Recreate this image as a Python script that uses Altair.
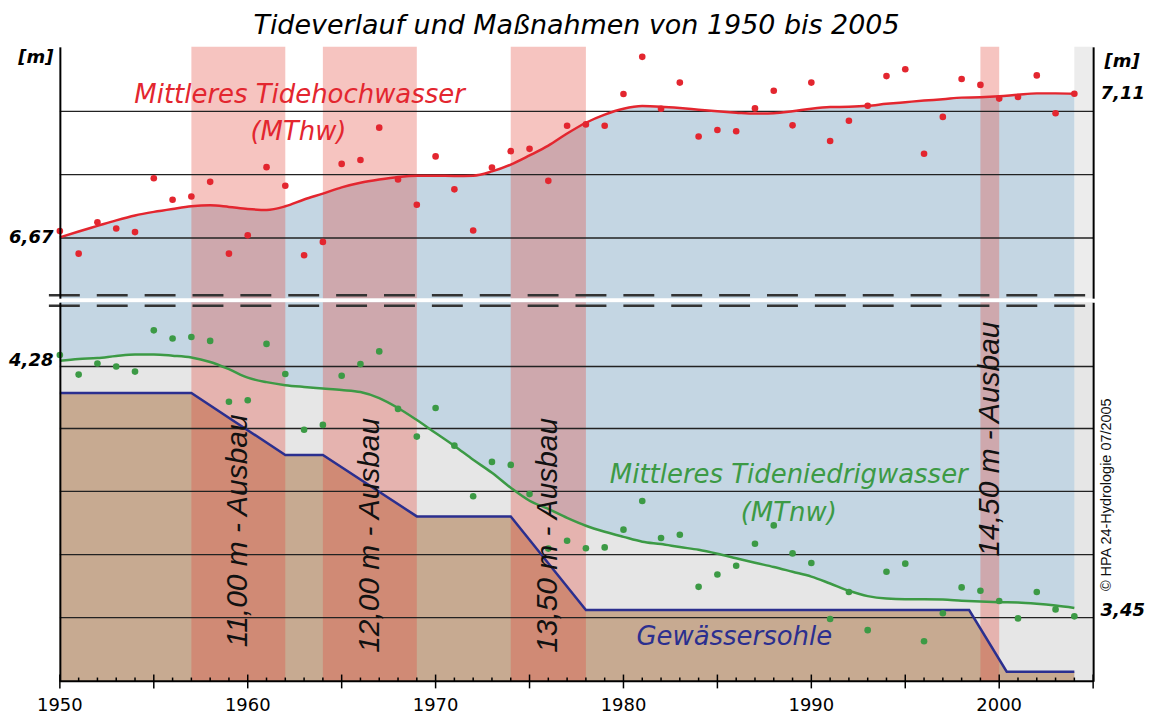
import altair as alt
import pandas as pd

# ---------------- data ----------------
years = list(range(1950, 2005))

mthw_points = [6.689, 6.620, 6.716, 6.697, 6.686, 6.851, 6.785, 6.795, 6.840, 6.620,
               6.676, 6.885, 6.828, 6.615, 6.656, 6.895, 6.907, 7.006, 6.847, 6.770,
               6.918, 6.817, 6.691, 6.884, 6.934, 6.941, 6.843, 7.012, 7.016, 7.012,
               7.109, 7.223, 7.064, 7.144, 6.979, 6.999, 6.995, 7.065, 7.119, 7.013,
               7.144, 6.965, 7.027, 7.073, 7.164, 7.185, 6.926, 7.039, 7.155, 7.137,
               7.095, 7.100, 7.166, 7.050, 7.110]

mthw_curve = [6.670, 6.688, 6.705, 6.722, 6.737, 6.748, 6.757, 6.765, 6.768, 6.763,
              6.757, 6.754, 6.765, 6.786, 6.804, 6.823, 6.837, 6.847, 6.855, 6.859,
              6.859, 6.858, 6.859, 6.872, 6.893, 6.921, 6.951, 6.988, 7.021, 7.046,
              7.064, 7.072, 7.070, 7.066, 7.061, 7.056, 7.052, 7.049, 7.050, 7.056,
              7.064, 7.069, 7.070, 7.073, 7.079, 7.084, 7.089, 7.093, 7.098, 7.099,
              7.102, 7.107, 7.111, 7.111, 7.110]

mtnw_points = [4.299, 4.234, 4.271, 4.261, 4.244, 4.381, 4.354, 4.359, 4.346, 4.144,
               4.149, 4.336, 4.236, 4.051, 4.067, 4.230, 4.269, 4.311, 4.120, 4.028,
               4.123, 3.998, 3.830, 3.944, 3.934, 3.837, 3.656, 3.682, 3.657, 3.660,
               3.719, 3.814, 3.691, 3.702, 3.529, 3.570, 3.599, 3.672, 3.733, 3.640,
               3.608, 3.422, 3.512, 3.385, 3.579, 3.606, 3.348, 3.441, 3.527, 3.516,
               3.482, 3.424, 3.512, 3.454, 3.431]

mtnw_curve = [4.280, 4.286, 4.289, 4.296, 4.301, 4.301, 4.297, 4.291, 4.276, 4.252,
              4.224, 4.209, 4.199, 4.193, 4.188, 4.183, 4.176, 4.156, 4.123, 4.083,
              4.040, 3.997, 3.951, 3.908, 3.858, 3.815, 3.788, 3.758, 3.732, 3.712,
              3.695, 3.679, 3.671, 3.661, 3.652, 3.639, 3.624, 3.609, 3.595, 3.579,
              3.563, 3.540, 3.516, 3.498, 3.490, 3.488, 3.488, 3.487, 3.483, 3.480,
              3.478, 3.477, 3.473, 3.467, 3.459]

sohle_years = [1950, 1957, 1962, 1964, 1969, 1974, 1978, 1998.4, 2000.4, 2004]
sohle_level = [4.173, 4.173, 3.967, 3.967, 3.763, 3.763, 3.452, 3.452, 3.247, 3.247]

ausbau_start = [1957, 1964, 1974, 1999]
ausbau_end = [1962, 1969, 1978, 2000]
ausbau_labels = ["11,00 m - Ausbau", "12,00 m - Ausbau", "13,50 m - Ausbau", "14,50 m - Ausbau"]
ausbau_label_y = [3.715, 3.700, 3.700, 4.020]

grid_top = [7.056, 6.862, 6.668]
grid_bottom = [4.261, 4.055, 3.846, 3.636, 3.427]

top_domain = [6.4836, 7.2536]
bottom_domain = [3.2156, 4.4747]
x_domain = [1950, 2005]
x_tick_years = list(range(1950, 2006))
x_label_years = list(range(1950, 2001, 10))

left_top_label = [6.67]
right_top_label = [7.11]
left_bottom_label = [4.28]
right_bottom_label = [3.45]

# annotation anchors (year, level)
top_texts = ["Mittleres Tidehochwasser", "(MThw)"]
top_text_x = [1962.76, 1962.7]
top_text_y = [7.105, 6.993]
green_texts = ["Mittleres Tideniedrigwasser", "(MTnw)"]
green_text_x = [1988.8, 1988.8]
green_text_y = [3.902, 3.774]
blue_texts = ["Gewässersohle"]
blue_text_x = [1985.9]
blue_text_y = [3.361]
credit_text = ["© HPA 24-Hydrologie 07/2005"]
credit_x = [2005.75]
credit_y = [3.835]

# ---------------- styling ----------------
W, HT, HB = 1036, 252, 380
RED = "#e3262f"
GREEN = "#3c9a45"
NAVY = "#2b2f8f"
BLUE_FILL = "#c4d6e3"
BROWN = "#c7aa91"
GRAYBG = "#e6e6e6"
BAND = "#e2483c"
HFONT = "DejaVu Sans"
VFONT = "Liberation Sans"

hw = pd.DataFrame({"year": years, "pt": mthw_points, "curve": mthw_curve})
nw = pd.DataFrame({"year": years, "pt": mtnw_points, "curve": mtnw_curve})
sohle = pd.DataFrame({"year": sohle_years, "level": sohle_level})
bands = pd.DataFrame({"start": ausbau_start, "end": ausbau_end,
                      "label": ausbau_labels, "ly": ausbau_label_y})
strip = pd.DataFrame({"start": [years[-1]], "end": [x_domain[1]]})
ticks_df = pd.DataFrame({"year": x_tick_years})
labels_df = pd.DataFrame({"year": x_label_years})
one = pd.DataFrame({"a": [0]})

xs = alt.Scale(domain=x_domain, nice=False, zero=False)
ys_top = alt.Scale(domain=top_domain, nice=False, zero=False)
ys_bot = alt.Scale(domain=bottom_domain, nice=False, zero=False)

comma = "replace(format(datum.value, '.2f'), '.', ',')"
B0 = bottom_domain[0]


def yaxis(orient, vals, title=None, tx=0, ty=0):
    kw = dict(orient=orient, values=vals, labelExpr=comma, ticks=False, grid=False,
              domainColor="black", domainWidth=2, labelFont=HFONT, labelFontSize=18,
              labelFontStyle="italic", labelFontWeight="bold", labelColor="black",
              labelPadding=7, zindex=1)
    if title:
        kw.update(title=title, titleAngle=0, titleAlign="right" if orient == "left" else "left",
                  titleBaseline="middle", titleX=tx, titleY=ty, titleFont=HFONT,
                  titleFontSize=18, titleFontStyle="italic", titleFontWeight="bold",
                  titleColor="black")
    else:
        kw.update(title=None)
    return alt.Axis(**kw)


# ---------------- top panel (MThw) ----------------
t_strip = alt.Chart(strip).mark_rect(color="#ececec").encode(
    x=alt.X("start:Q", scale=xs, axis=alt.Axis(orient="top", labels=False, ticks=False,
                                                 grid=False, domainColor="black",
                                                 domainWidth=2.5, title=None, zindex=1)),
    x2="end:Q")

t_area = alt.Chart(hw).mark_area(color=BLUE_FILL, interpolate="monotone").encode(
    x=alt.X("year:Q", scale=xs, axis=None),
    y=alt.Y("curve:Q", scale=ys_top, axis=yaxis("left", left_top_label, "[m]", -7, 11)),
    y2=alt.datum(top_domain[0]))

t_bands = alt.Chart(bands).mark_rect(color=BAND, opacity=0.32).encode(
    x=alt.X("start:Q", scale=xs, axis=None), x2="end:Q")

t_grid = alt.Chart(pd.DataFrame({"v": grid_top})).mark_rule(color="#222", strokeWidth=1.3).encode(
    y=alt.Y("v:Q", scale=ys_top, axis=None))

t_break = alt.Chart(one).mark_rule(color="#333", strokeWidth=2.5, strokeDash=[31, 17]).encode(
    x=alt.value(-11), x2=alt.value(W + 8),
    y=alt.YDatum(6.4928, scale=ys_top, axis=None))

t_line = alt.Chart(hw).mark_line(color=RED, strokeWidth=2.5, interpolate="monotone").encode(
    x=alt.X("year:Q", scale=xs, axis=None),
    y=alt.Y("curve:Q", scale=ys_top, axis=yaxis("right", right_top_label, "[m]", 11, 15)))

t_pts = alt.Chart(hw).mark_circle(color=RED, size=44, opacity=1).encode(
    x=alt.X("year:Q", scale=xs, axis=None),
    y=alt.Y("pt:Q", scale=ys_top, axis=None))

t_text = alt.Chart(pd.DataFrame({"t": top_texts, "x": top_text_x, "y": top_text_y})).mark_text(
    color=RED, font=HFONT, fontSize=26, fontStyle="italic", align="center", baseline="middle").encode(
    x=alt.X("x:Q", scale=xs, axis=None), y=alt.Y("y:Q", scale=ys_top, axis=None), text="t:N")

top = alt.layer(t_strip, t_area, t_bands, t_grid, t_break, t_line, t_pts, t_text).resolve_axis(
    y="independent").properties(width=W, height=HT,
                                view=alt.ViewBackground(fill="white", stroke=None))

# ---------------- bottom panel (MTnw, Gewässersohle) ----------------
b_area = alt.Chart(nw).mark_area(color=BLUE_FILL, interpolate="monotone").encode(
    x=alt.X("year:Q", scale=xs, axis=None),
    y=alt.Y("curve:Q", scale=ys_bot, axis=yaxis("left", left_bottom_label)),
    y2=alt.datum(bottom_domain[1]))

b_brown = alt.Chart(sohle).mark_area(color=BROWN).encode(
    x=alt.X("year:Q", scale=xs, axis=None),
    y=alt.Y("level:Q", scale=ys_bot, axis=None),
    y2=alt.datum(B0))

b_bands = alt.Chart(bands).mark_rect(color=BAND, opacity=0.32).encode(
    x=alt.X("start:Q", scale=xs, axis=None), x2="end:Q")

b_grid = alt.Chart(pd.DataFrame({"v": grid_bottom})).mark_rule(color="#222", strokeWidth=1.3).encode(
    y=alt.Y("v:Q", scale=ys_bot, axis=None))

# x axis drawn from the tick arrays: baseline, year ticks and decade labels
b_xline = alt.Chart(one).mark_rule(color="black", strokeWidth=2).encode(
    y=alt.YDatum(B0, scale=ys_bot, axis=None))

b_ticks = alt.Chart(ticks_df).transform_calculate(
    lo=f"{B0} - (datum.year % 5 === 0 ? 0.024 : 0)",
    hi=f"{B0} + (datum.year % 5 === 0 ? 0.022 : 0.012)").mark_rule(
    color="black", strokeWidth=1.5).encode(
    x=alt.X("year:Q", scale=xs, axis=None),
    y=alt.Y("lo:Q", scale=ys_bot, axis=None), y2="hi:Q")

b_xlabels = alt.Chart(labels_df).transform_calculate(
    ly=f"{B0} - 0.053", lab="toString(datum.year)").mark_text(
    font=HFONT, fontSize=18, color="black", align="center", baseline="top").encode(
    x=alt.X("year:Q", scale=xs, axis=None),
    y=alt.Y("ly:Q", scale=ys_bot, axis=None), text="lab:N")

b_break = alt.Chart(one).mark_rule(color="#333", strokeWidth=2.5, strokeDash=[31, 17]).encode(
    x=alt.value(-11), x2=alt.value(W + 8),
    y=alt.YDatum(4.4624, scale=ys_bot, axis=None))

b_line = alt.Chart(nw).mark_line(color=GREEN, strokeWidth=2.5, interpolate="monotone").encode(
    x=alt.X("year:Q", scale=xs, axis=None),
    y=alt.Y("curve:Q", scale=ys_bot, axis=yaxis("right", right_bottom_label)))

b_sohle = alt.Chart(sohle).mark_line(color=NAVY, strokeWidth=2.5).encode(
    x=alt.X("year:Q", scale=xs, axis=None),
    y=alt.Y("level:Q", scale=ys_bot, axis=None))

b_pts = alt.Chart(nw).mark_circle(color=GREEN, size=44, opacity=1).encode(
    x=alt.X("year:Q", scale=xs, axis=None),
    y=alt.Y("pt:Q", scale=ys_bot, axis=None))

b_gtext = alt.Chart(pd.DataFrame({"t": green_texts, "x": green_text_x, "y": green_text_y})).mark_text(
    color=GREEN, font=HFONT, fontSize=26, fontStyle="italic", align="center", baseline="middle").encode(
    x=alt.X("x:Q", scale=xs, axis=None), y=alt.Y("y:Q", scale=ys_bot, axis=None), text="t:N")

b_btext = alt.Chart(pd.DataFrame({"t": blue_texts, "x": blue_text_x, "y": blue_text_y})).mark_text(
    color=NAVY, font=HFONT, fontSize=26, fontStyle="italic", align="center", baseline="middle").encode(
    x=alt.X("x:Q", scale=xs, axis=None), y=alt.Y("y:Q", scale=ys_bot, axis=None), text="t:N")

b_band_text = alt.Chart(bands).transform_calculate(mid="(datum.start + datum.end) / 2").mark_text(
    color="#111", font=VFONT, fontSize=30, fontStyle="italic", angle=270,
    align="center", baseline="middle").encode(
    x=alt.X("mid:Q", scale=xs, axis=None), y=alt.Y("ly:Q", scale=ys_bot, axis=None), text="label:N")

b_credit = alt.Chart(pd.DataFrame({"t": credit_text, "x": credit_x, "y": credit_y})).mark_text(
    color="#111", font=VFONT, fontSize=14.5, angle=270, align="center", baseline="middle").encode(
    x=alt.X("x:Q", scale=xs, axis=None), y=alt.Y("y:Q", scale=ys_bot, axis=None), text="t:N")

bottom = alt.layer(b_area, b_brown, b_bands, b_grid, b_break, b_line, b_sohle, b_pts,
                   b_gtext, b_btext, b_band_text, b_credit,
                   b_xline, b_ticks, b_xlabels).resolve_axis(
    y="independent").properties(width=W, height=HB,
                                view=alt.ViewBackground(fill=GRAYBG, stroke=None))

chart = alt.vconcat(top, bottom, spacing=4).properties(
    title=alt.TitleParams("Tideverlauf und Maßnahmen von 1950 bis 2005", font=HFONT,
                          fontSize=27, fontStyle="italic", fontWeight="normal",
                          color="black", anchor="middle", offset=7),
    padding={"top": 3, "left": 0, "right": 0, "bottom": 0},
    background="white").configure_view(stroke=None)

chart.save("out.html", embed_options={"renderer": "svg", "actions": False})
